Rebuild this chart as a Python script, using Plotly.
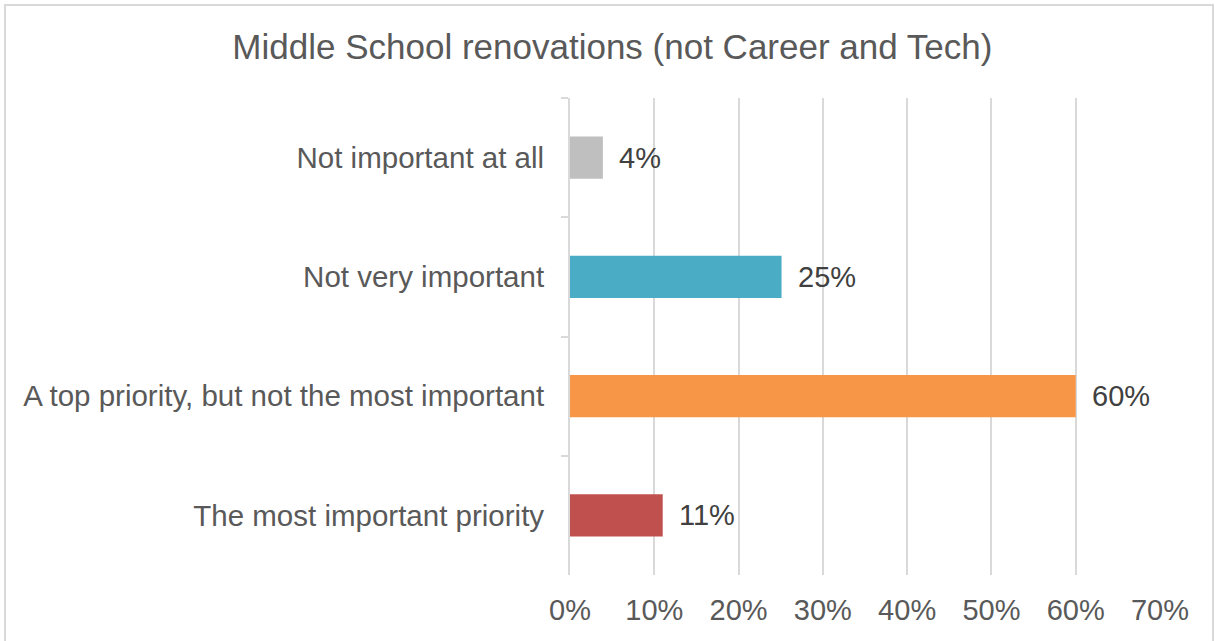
import plotly.graph_objects as go

categories = ["Not important at all", "Not very important",
              "A top priority, but not the most important", "The most important priority"]
values = [3.9, 25.1, 60.0, 11.0]
labels = ["4%", "25%", "60%", "11%"]
colors = ["#BFBFBF", "#4BACC6", "#F79646", "#C0504D"]
tick_vals = [0, 10, 20, 30, 40, 50, 60, 70]
tick_text = ["0%", "10%", "20%", "30%", "40%", "50%", "60%", "70%"]
title_text = "Middle School renovations (not Career and Tech)"

FONT = "Liberation Sans, Arial, sans-serif"

fig = go.Figure(go.Bar(
    x=values, y=categories, orientation="h",
    marker=dict(color=colors, line=dict(width=0)),
    hoverinfo="skip",
))

annotations = []
for c, v, t in zip(categories, values, labels):
    annotations.append(dict(x=v, y=c, xref="x", yref="y", text=t, showarrow=False,
                            xanchor="left", yanchor="middle", xshift=14,
                            font=dict(family=FONT, size=29, color="#404040")))

L, R, T, B = 570, 55, 98, 66
PW, PH = 1215 - L - R, 641 - T - B

fig.update_layout(
    width=1215, height=641,
    margin=dict(l=L, r=R, t=T, b=B, autoexpand=False),
    paper_bgcolor="white", plot_bgcolor="white",
    bargap=0.647,
    showlegend=False,
    title=dict(text=title_text, x=0.504, xref="container", xanchor="center",
               y=1 - 47 / 641, yref="container", yanchor="middle",
               font=dict(family=FONT, size=35, color="#595959")),
    annotations=annotations,
    shapes=[dict(type="rect", xref="paper", yref="paper",
                 x0=(5 - L) / PW, x1=(1213 - L) / PW,
                 y0=(T + PH - 660) / PH, y1=(T + PH - 5) / PH,
                 line=dict(color="#D9D9D9", width=2), fillcolor="rgba(0,0,0,0)",
                 layer="below")],
)

fig.update_xaxes(
    range=[0, 70], tickvals=tick_vals, ticktext=tick_text,
    showgrid=True, gridcolor="#D9D9D9", gridwidth=2,
    zeroline=False, showline=False, ticks="",
    ticklabelstandoff=15,
    tickfont=dict(family=FONT, size=29, color="#595959"),
    fixedrange=True,
)
fig.update_yaxes(
    categoryorder="array", categoryarray=categories, autorange="reversed",
    showgrid=False, showline=True, linecolor="#D9D9D9", linewidth=2,
    ticks="outside", tickson="boundaries", ticklen=7, tickcolor="#D9D9D9", tickwidth=2,
    ticklabelstandoff=18,
    tickfont=dict(family=FONT, size=29.5, color="#595959"),
    fixedrange=True,
)

fig.write_html("out.html", config={"displayModeBar": False},
               post_script="document.body.style.margin='0';document.body.style.overflow='hidden';")
